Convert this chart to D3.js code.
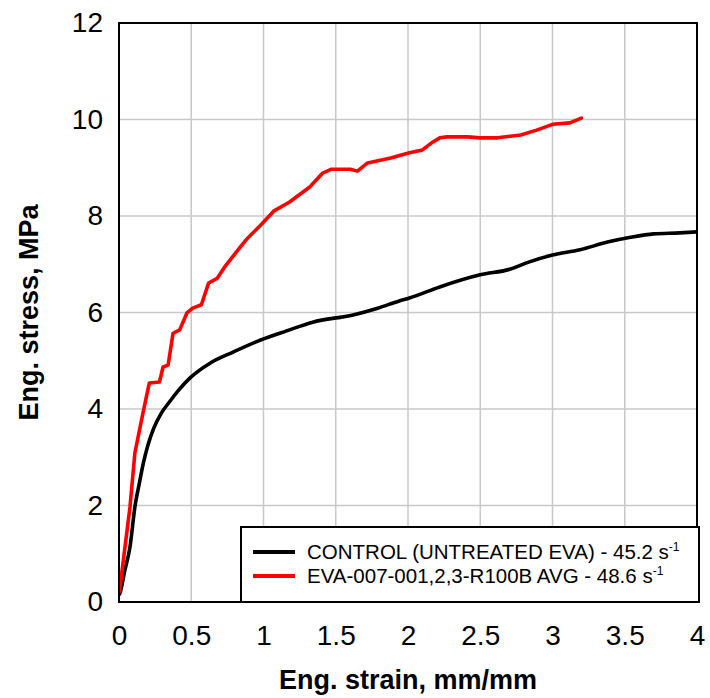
<!DOCTYPE html>
<html><head><meta charset="utf-8">
<script src="https://cdn.jsdelivr.net/npm/d3@7"></script>
<style>body{margin:0;background:#fff}svg{display:block;font-family:"Liberation Sans",Arial,sans-serif}</style>
</head><body><svg id="c" width="710" height="698"></svg>
<script>
const xTicks = [0, 0.5, 1, 1.5, 2, 2.5, 3, 3.5, 4];
const xTickLabels = ["0", "0.5", "1", "1.5", "2", "2.5", "3", "3.5", "4"];
const yTicks = [0, 2, 4, 6, 8, 10, 12];
const controlStrain = [0.0, 0.007, 0.04, 0.076, 0.11, 0.14, 0.17, 0.2, 0.24, 0.29, 0.35, 0.41, 0.49, 0.63, 0.79, 0.98, 1.16, 1.34, 1.62, 1.79, 1.94, 2.01, 2.22, 2.5, 2.71, 2.84, 3.0, 3.19, 3.38, 3.54, 3.7, 3.88, 4.0];
const controlStress = [0.15, 0.19, 0.65, 1.14, 1.97, 2.45, 2.9, 3.25, 3.6, 3.9, 4.15, 4.38, 4.64, 4.95, 5.18, 5.43, 5.62, 5.8, 5.95, 6.09, 6.24, 6.3, 6.53, 6.78, 6.9, 7.05, 7.19, 7.3, 7.46, 7.56, 7.63, 7.65, 7.67];
const treatedStrain = [0.0, 0.007, 0.076, 0.11, 0.166, 0.21, 0.28, 0.305, 0.34, 0.374, 0.42, 0.47, 0.51, 0.57, 0.62, 0.68, 0.73, 0.84, 0.89, 0.98, 1.07, 1.18, 1.32, 1.41, 1.47, 1.6, 1.65, 1.72, 1.88, 2.01, 2.1, 2.17, 2.22, 2.27, 2.41, 2.5, 2.62, 2.78, 2.89, 3.0, 3.12, 3.2];
const treatedStress = [0.2, 0.31, 1.97, 3.09, 3.92, 4.54, 4.56, 4.87, 4.91, 5.57, 5.64, 5.99, 6.09, 6.16, 6.61, 6.71, 6.94, 7.36, 7.54, 7.81, 8.1, 8.29, 8.6, 8.89, 8.97, 8.97, 8.93, 9.1, 9.2, 9.31, 9.37, 9.53, 9.62, 9.64, 9.64, 9.62, 9.62, 9.68, 9.78, 9.9, 9.93, 10.03];
const seriesNames = ["CONTROL (UNTREATED EVA) - 45.2 s", "EVA-007-001,2,3-R100B AVG - 48.6 s"];
const seriesColors = ["#000000", "#ff0000"];

const svg = d3.select("#c");
const L = 119, R = 697, T = 23, B = 602;
const x = d3.scaleLinear().domain([0, 4]).range([L, R]);
const y = d3.scaleLinear().domain([0, 12]).range([B, T]);

// grid
svg.append("g").selectAll("line").data(xTicks.slice(1, -1)).join("line")
  .attr("x1", d => x(d)).attr("x2", d => x(d)).attr("y1", T).attr("y2", B)
  .attr("stroke", "#c8c8c8").attr("stroke-width", 1.5);
svg.append("g").selectAll("line").data(yTicks.slice(1, -1)).join("line")
  .attr("y1", d => y(d)).attr("y2", d => y(d)).attr("x1", L).attr("x2", R)
  .attr("stroke", "#c8c8c8").attr("stroke-width", 1.5);

// axes labels via d3 axes
const xAxis = d3.axisBottom(x).tickValues(xTicks).tickSize(0).tickPadding(23)
  .tickFormat((d, i) => xTickLabels[i]);
const gx = svg.append("g").attr("transform", `translate(0,${B})`).call(xAxis);
gx.select(".domain").remove();
gx.selectAll("text").attr("font-size", 28).attr("fill", "#000").attr("font-family", "Liberation Sans, Arial, sans-serif");
const yAxis = d3.axisLeft(y).tickValues(yTicks).tickSize(0).tickPadding(16);
const gy = svg.append("g").attr("transform", `translate(${L},0)`).call(yAxis);
gy.select(".domain").remove();
gy.selectAll("text").attr("font-size", 28).attr("fill", "#000").attr("font-family", "Liberation Sans, Arial, sans-serif");

// curves
const lineSmooth = d3.line().x(d => x(d[0])).y(d => y(d[1])).curve(d3.curveMonotoneX);
const lineRaw = d3.line().x(d => x(d[0])).y(d => y(d[1]));
svg.append("clipPath").attr("id", "clip").append("rect").attr("x", L).attr("y", T).attr("width", R - L).attr("height", B - T);
const data = [d3.zip(controlStrain, controlStress), d3.zip(treatedStrain, treatedStress)];
svg.append("g").attr("clip-path", "url(#clip)").selectAll("path").data(data).join("path")
  .attr("d", (d, i) => i === 0 ? lineSmooth(d) : lineRaw(d)).attr("fill", "none")
  .attr("stroke", (d, i) => seriesColors[i]).attr("stroke-width", 3.6)
  .attr("stroke-linejoin", "round").attr("stroke-linecap", "round");

// frame
svg.append("rect").attr("x", L).attr("y", T).attr("width", R - L).attr("height", B - T)
  .attr("fill", "none").attr("stroke", "#000").attr("stroke-width", 2);

// legend
const lg = svg.append("g");
lg.append("rect").attr("x", 241).attr("y", 527).attr("width", 458).attr("height", 75)
  .attr("fill", "#fff").attr("stroke", "#000").attr("stroke-width", 2);
seriesNames.forEach((n, i) => {
  const yy = 552 + i * 24;
  lg.append("line").attr("x1", 253).attr("x2", 295).attr("y1", yy).attr("y2", yy)
    .attr("stroke", seriesColors[i]).attr("stroke-width", 4);
  const t = lg.append("text").attr("x", 307).attr("y", yy + 7).attr("font-size", 20.5).attr("fill", "#000");
  t.append("tspan").text(n);
  t.append("tspan").attr("dy", -8).attr("font-size", 12).text("-1");
});

// titles
svg.append("text").attr("x", (L + R) / 2).attr("y", 689).attr("text-anchor", "middle")
  .attr("font-size", 27).attr("font-weight", "bold").text("Eng. strain, mm/mm");
svg.append("text").attr("transform", `translate(38,${(T + B) / 2}) rotate(-90)`).attr("text-anchor", "middle")
  .attr("font-size", 27).attr("font-weight", "bold").text("Eng. stress, MPa");
</script></body></html>
